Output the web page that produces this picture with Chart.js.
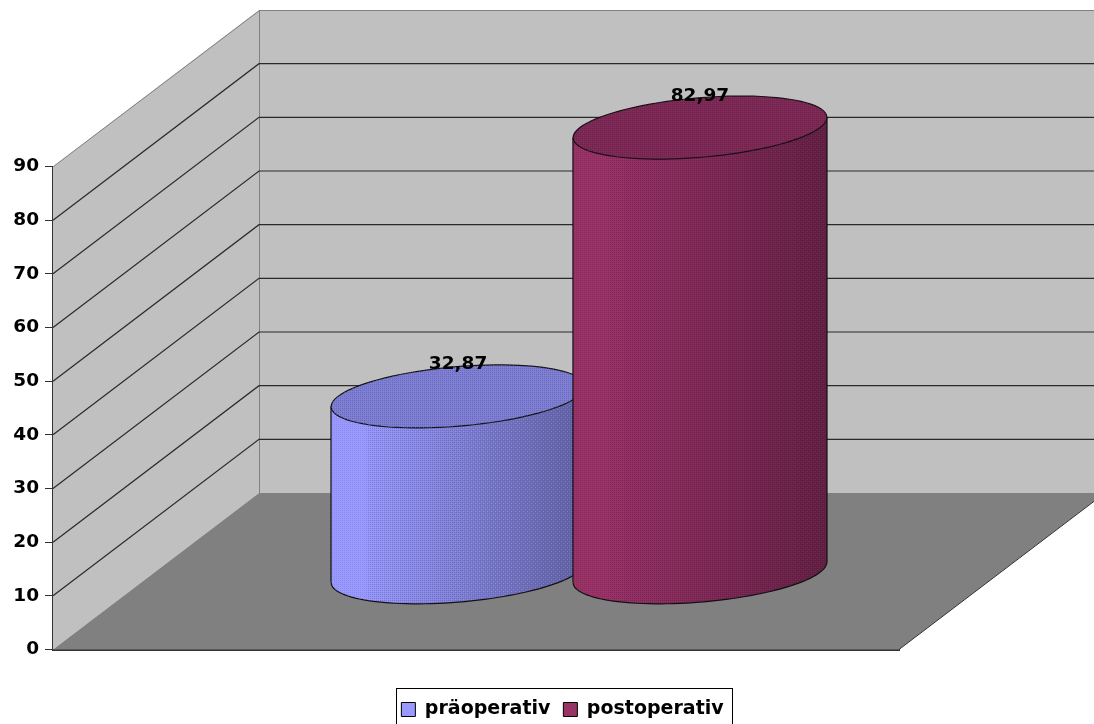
<!DOCTYPE html>
<html>
<head>
<meta charset="utf-8">
<title>prä- und postoperativ</title>
<script src="https://cdn.jsdelivr.net/npm/chart.js@4/dist/chart.umd.min.js"></script>
<style>
  html, body { margin: 0; padding: 0; background: #fff; overflow: hidden; }
  canvas { display: block; }
</style>
</head>
<body>
<canvas id="chart" width="1094" height="724"></canvas>
<script>
const categories = [''];
const seriesNames = ['präoperativ', 'postoperativ'];
const seriesValues = [[32.87], [82.97]];
const seriesColors = ['#9999ff', '#993366'];
const seriesStipple = ['#5a5aa8', '#5c1650'];
const tickValues = [0, 10, 20, 30, 40, 50, 60, 70, 80, 90];

const labelFont = 'bold 18.5px "DejaVu Sans"';
// depth of the floor, in pixels
const depthX = 206, depthY = 156.5;
// the frame runs off the bottom of the canvas
const legendFrame = { left: 396, top: 688, right: 733, bottom: 730 };
const legendMid = { x: 562.5, y: 708 };

function shade(hex, f) {
    const n = parseInt(hex.slice(1), 16);
    const c = [n >> 16, (n >> 8) & 255, n & 255].map(v => Math.round(v * f));
    return `rgb(${c[0]},${c[1]},${c[2]})`;
}

// small dither tile, gives the bodies their stippled look
function ditherTile(dark, light) {
    const t = document.createElement('canvas');
    t.width = t.height = 4;
    const g = t.getContext('2d');
    g.globalAlpha = 0.5;
    g.fillStyle = dark;
    g.fillRect(0, 0, 1, 1);
    g.fillRect(2, 2, 1, 1);
    g.fillRect(2, 0, 1, 1);
    g.fillRect(0, 2, 1, 1);
    g.globalAlpha = 0.3;
    g.fillStyle = light;
    g.fillRect(1, 1, 1, 1);
    g.fillRect(3, 3, 1, 1);
    return t;
}

const walls = {
    id: 'walls',
    beforeDatasetsDraw(chart) {
        const { ctx, scales: { x, y } } = chart;
        const x0 = x.left, x1 = x.right;
        const yb = y.getPixelForValue(0), yt = y.getPixelForValue(90);
        ctx.save();
        ctx.lineWidth = 1;

        // side wall
        ctx.fillStyle = '#c0c0c0';
        ctx.beginPath();
        ctx.moveTo(x0, yb);
        ctx.lineTo(x0, yt);
        ctx.lineTo(x0 + depthX, yt - depthY);
        ctx.lineTo(x0 + depthX, yb - depthY);
        ctx.closePath();
        ctx.fill();
        // back wall
        ctx.fillRect(x0 + depthX, yt - depthY, x1 - x0, yb - yt);

        // floor
        ctx.fillStyle = '#808080';
        ctx.beginPath();
        ctx.moveTo(x0, yb);
        ctx.lineTo(x0 + depthX, yb - depthY);
        ctx.lineTo(x1 + depthX, yb - depthY);
        ctx.lineTo(x1, yb);
        ctx.closePath();
        ctx.fill();

        // wall outlines
        ctx.strokeStyle = '#808080';
        ctx.beginPath();
        ctx.moveTo(x0 + 0.5, yt);
        ctx.lineTo(x0 + depthX + 0.5, yt - depthY + 0.5);
        ctx.lineTo(x1 + depthX, yt - depthY + 0.5);
        ctx.moveTo(x0 + depthX + 0.5, yt - depthY);
        ctx.lineTo(x0 + depthX + 0.5, yb - depthY);
        ctx.stroke();

        // floor front-right edge
        ctx.strokeStyle = '#333333';
        ctx.beginPath();
        ctx.moveTo(x1, yb);
        ctx.lineTo(x1 + depthX, yb - depthY);
        ctx.stroke();

        // gridlines run along the side wall, then across the back wall
        ctx.strokeStyle = '#2a2a2a';
        ctx.lineWidth = 1.2;
        ctx.beginPath();
        y.ticks.forEach(t => {
            if (t.value === 0 || t.value === 90) return;
            const py = y.getPixelForValue(t.value);
            ctx.moveTo(x0, py);
            ctx.lineTo(x0 + depthX, py - depthY);
            ctx.lineTo(x1 + depthX, py - depthY);
        });
        ctx.stroke();
        ctx.restore();
    }
};

function ellipsePath(ctx, cx, cy, rx) {
    // a circle lying on the floor plane, sheared along the depth direction
    const steps = 90, r = rx * 0.945, sx = rx * 0.323, sy = rx * 0.248;
    for (let i = 0; i <= steps; i++) {
        const a = i / steps * Math.PI * 2;
        const px = cx + r * Math.cos(a) + sx * Math.sin(a);
        const py = cy - sy * Math.sin(a);
        if (i === 0) ctx.moveTo(px, py); else ctx.lineTo(px, py);
    }
}

function drawCylinder(chart, bar, color, stipple) {
    const { ctx } = chart;
    const rx = bar.width / 2;
    const cx = bar.x + depthX / 2;
    const top = bar.y - depthY * 0.49;
    const base = bar.base - depthY * 0.49;
    const tilt = rx * 0.079;

    // body: front half of the base ellipse joined to the top by straight sides
    ctx.save();
    ctx.beginPath();
    ctx.moveTo(cx - rx, top + tilt);
    ctx.lineTo(cx + rx, top - tilt);
    ctx.lineTo(cx + rx, base - tilt);
    const steps = 60, r = rx * 0.945, sx = rx * 0.323, sy = rx * 0.248;
    const a0 = Math.atan2(sx, r);
    for (let i = 0; i <= steps; i++) {
        const a = a0 - i / steps * Math.PI;
        ctx.lineTo(cx + r * Math.cos(a) + sx * Math.sin(a), base - sy * Math.sin(a));
    }
    ctx.closePath();
    const g = ctx.createLinearGradient(cx - rx, 0, cx + rx, 0);
    g.addColorStop(0, color);
    g.addColorStop(0.13, color);
    g.addColorStop(1, shade(color, 0.62));
    ctx.fillStyle = g;
    ctx.fill();
    ctx.clip();
    const tile = ctx.createPattern(ditherTile(stipple, shade(color, 1.15)), 'repeat');
    ctx.fillStyle = tile;
    // sparse stipple near the lit edge, full stipple after it
    ctx.globalAlpha = 0.45;
    ctx.fillRect(cx - rx, top - 60, rx * 0.28, base - top + 120);
    ctx.globalAlpha = 1;
    ctx.fillRect(cx - rx + rx * 0.28, top - 60, rx * 2, base - top + 120);
    ctx.restore();

    ctx.save();
    ctx.lineWidth = 1.2;
    ctx.strokeStyle = '#111111';
    ctx.beginPath();
    ctx.moveTo(cx - rx, top + tilt);
    ctx.lineTo(cx - rx, base + tilt);
    ctx.moveTo(cx + rx, top - tilt);
    ctx.lineTo(cx + rx, base - tilt);
    for (let i = 0; i <= steps; i++) {
        const a = a0 - i / steps * Math.PI;
        const px = cx + r * Math.cos(a) + sx * Math.sin(a);
        const py = base - sy * Math.sin(a);
        if (i === 0) ctx.moveTo(px, py); else ctx.lineTo(px, py);
    }
    ctx.stroke();

    // top face
    ctx.beginPath();
    ellipsePath(ctx, cx, top, rx);
    ctx.closePath();
    ctx.fillStyle = shade(color, 0.82);
    ctx.fill();
    ctx.stroke();
    ctx.save();
    ctx.clip();
    ctx.fillStyle = ctx.createPattern(ditherTile(stipple, shade(color, 1)), 'repeat');
    ctx.fillRect(cx - rx, top - rx, rx * 2, rx * 2);
    ctx.restore();
    ctx.restore();
}

const cylinders = {
    id: 'cylinders',
    beforeDatasetsDraw(chart) {
        chart.data.datasets.forEach((ds, i) => {
            chart.getDatasetMeta(i).data.forEach(bar => drawCylinder(chart, bar, ds.backgroundColor, seriesStipple[i]));
        });
    },
    // the flat bars are replaced by the cylinders above
    beforeDatasetDraw() {
        return false;
    },
    afterDatasetsDraw(chart) {
        const { ctx } = chart;
        ctx.save();
        ctx.font = labelFont;
        ctx.fillStyle = '#000';
        ctx.textAlign = 'center';
        ctx.textBaseline = 'middle';
        chart.data.datasets.forEach((ds, i) => {
            chart.getDatasetMeta(i).data.forEach((bar, j) => {
                const text = ds.data[j].toFixed(2).replace('.', ',');
                ctx.fillText(text, bar.x + depthX / 2, bar.y - depthY * 0.49 - bar.width * 0.125);
            });
        });
        ctx.restore();
    }
};

// moves the legend off-centre under the chart and frames it
const legendBox = {
    id: 'legendBox',
    afterLayout(chart) {
        const l = chart.legend;
        // wider than the frame so the two entries stay on one line
        l.left = legendMid.x - 300;
        l.right = legendMid.x + 300;
        l.width = 600;
        l.top = legendMid.y - l.height / 2;
        l.bottom = legendMid.y + l.height / 2;
    },
    afterDraw(chart) {
        const { ctx } = chart, f = legendFrame;
        ctx.save();
        ctx.strokeStyle = '#000';
        ctx.lineWidth = 1;
        ctx.strokeRect(f.left + 0.5, f.top + 0.5, f.right - f.left - 1, f.bottom - f.top - 1);
        ctx.restore();
    }
};

new Chart(document.getElementById('chart'), {
    type: 'bar',
    data: {
        labels: categories,
        datasets: seriesNames.map((name, i) => ({
            label: name,
            data: seriesValues[i],
            backgroundColor: seriesColors[i],
            borderColor: '#000',
            borderWidth: 1,
            categoryPercentage: 0.572,
            barPercentage: 1.05
        }))
    },
    plugins: [walls, cylinders, legendBox],
    options: {
        responsive: false,
        animation: false,
        layout: { padding: { top: 166.5, right: 195, left: 0, bottom: 24.5 } },
        plugins: {
            tooltip: { enabled: false },
            legend: {
                position: 'bottom',
                labels: {
                    font: { family: 'DejaVu Sans', weight: 'bold', size: 19 },
                    color: '#000',
                    boxWidth: 14,
                    boxHeight: 14,
                    padding: 13
                }
            }
        },
        scales: {
            x: {
                grid: { display: false },
                border: { color: '#333333', width: 2 },
                ticks: { display: false }
            },
            y: {
                min: 0,
                max: 90,
                afterFit(scale) { scale.width = 53; },
                afterBuildTicks(scale) { scale.ticks = tickValues.map(value => ({ value })); },
                grid: { drawOnChartArea: false, tickLength: 8, color: '#333333' },
                border: { color: '#333333', width: 2 },
                ticks: {
                    color: '#000',
                    padding: 6,
                    font: { family: 'DejaVu Sans', weight: 'bold', size: 18.5 }
                }
            }
        }
    }
});
</script>
</body>
</html>
